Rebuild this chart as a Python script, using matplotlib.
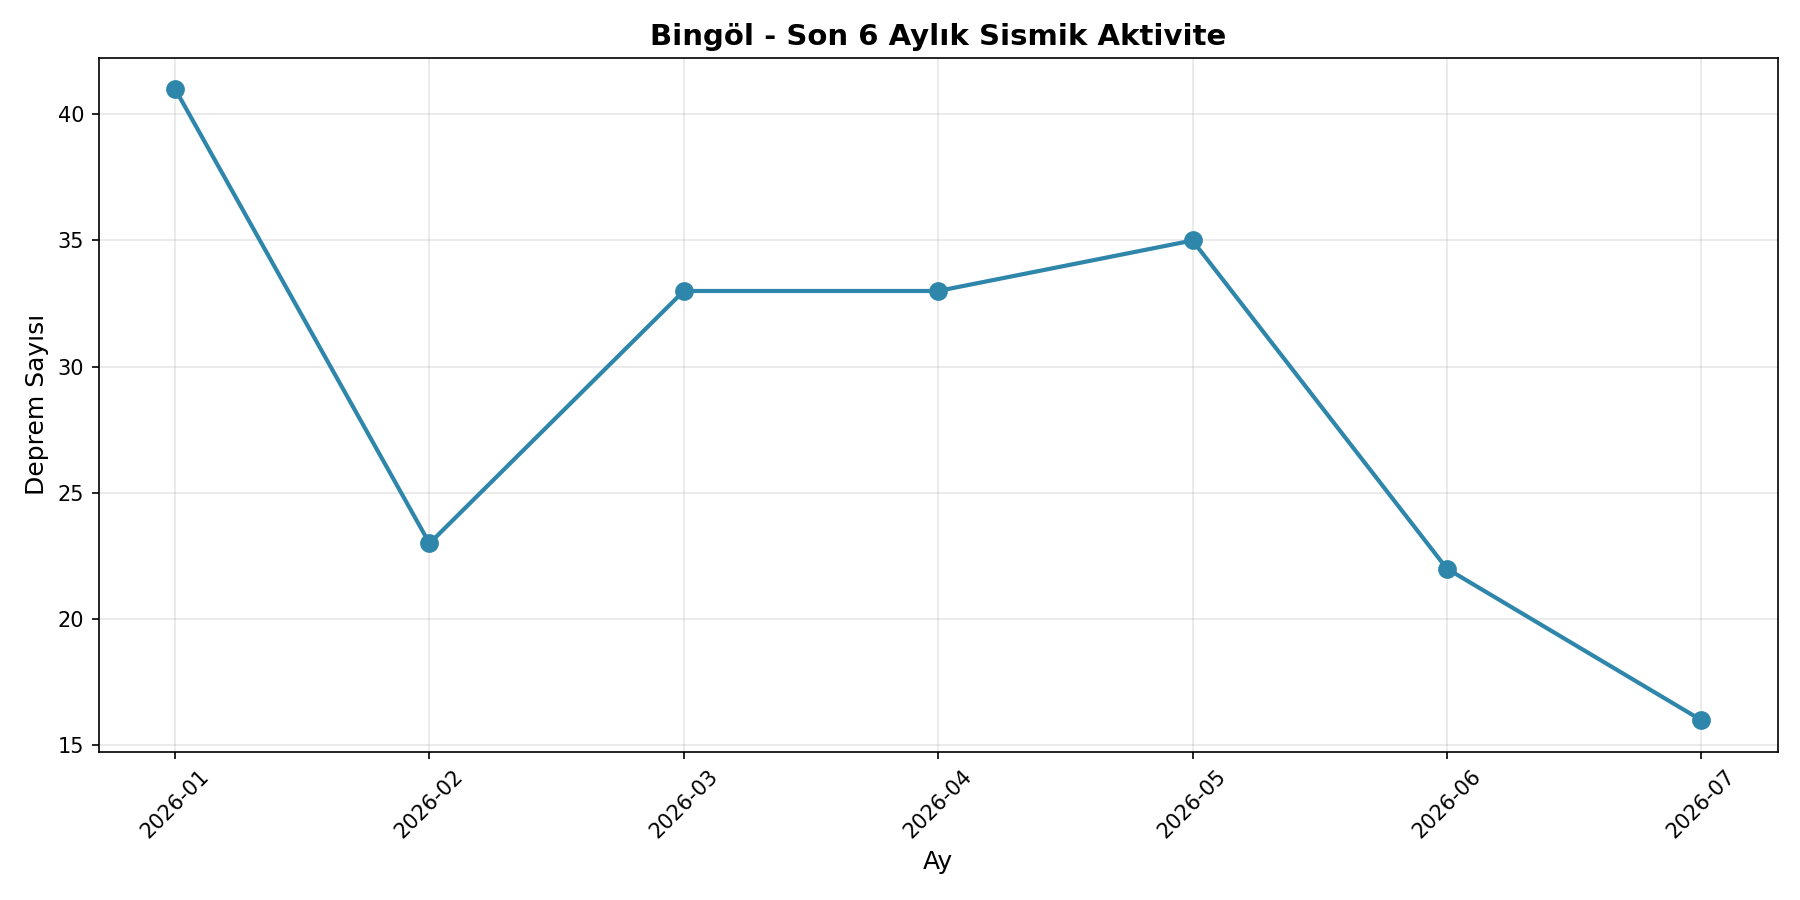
import matplotlib
matplotlib.use("Agg")
from matplotlib import pyplot as plt

months = ["2026-01", "2026-02", "2026-03", "2026-04", "2026-05", "2026-06", "2026-07"]
counts = [41, 23, 33, 33, 35, 22, 16]

fig, ax = plt.subplots(figsize=(12, 6))
ax.plot(months, counts, marker="o", linewidth=2, markersize=8, color="#2E86AB")
ax.set_title("Bingöl - Son 6 Aylık Sismik Aktivite", fontsize=14, fontweight="bold")
ax.set_xlabel("Ay", fontsize=12)
ax.set_ylabel("Deprem Sayısı", fontsize=12)
ax.grid(True, alpha=0.3)
plt.xticks(rotation=45)
plt.tight_layout()
plt.savefig("out.png", dpi=150)
